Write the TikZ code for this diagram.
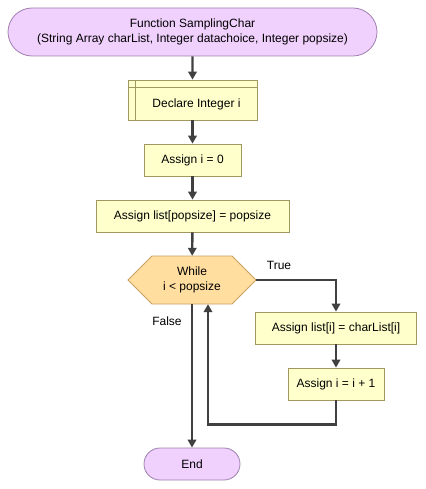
\documentclass[tikz,border=0pt]{standalone}
\usepackage{fontspec}
\setmainfont{Liberation Sans}
\usetikzlibrary{shapes.misc,arrows.meta}
\definecolor{termfill}{RGB}{240,208,252}
\definecolor{termline}{RGB}{160,128,176}
\definecolor{procfill}{RGB}{255,255,204}
\definecolor{procline}{RGB}{160,152,96}
\definecolor{decfill}{RGB}{255,222,160}
\definecolor{decline}{RGB}{200,160,96}
\definecolor{flowline}{RGB}{64,64,64}
\tikzset{
	lbl/.style = {font = \fontsize{12}{15}\selectfont, inner sep = 0pt},
	term/.style = {lbl, rounded rectangle, draw = termline, fill = termfill, line width = 0.8pt, align = center},
	proc/.style = {lbl, rectangle, draw = procline, fill = procfill, line width = 0.8pt, minimum height = 32pt},
	flow/.style = {draw = flowline, line width = 2.4pt, -{Triangle[width = 8.5pt, length = 8pt]}}
}
\begin{document}
\begin{tikzpicture}[x = 1pt, y = -1pt]
		\useasboundingbox (0, 0) rectangle (425, 489);
		% 框
		\node [term, minimum width = 369pt, minimum height = 48pt] (start) at (192.5, 32)
			{Function SamplingChar\\(String Array charList, Integer datachoice, Integer popsize)};
		\node [proc, minimum width = 129pt, minimum height = 40pt] (decl) at (192.5, 100) {};
		\draw [procline, line width = 0.8pt] ([xshift = 8pt]decl.north west) -- ([xshift = 8pt]decl.south west);
		\draw [procline, line width = 0.8pt] ([yshift = -8pt]decl.north west) -- ([yshift = -8pt]decl.north east);
		\node [lbl] (decltext) at (196.5, 104) {Declare Integer i};
		\node [proc, minimum width = 97pt] (init) at (192.5, 160) {Assign i = 0};
		\node [proc, minimum width = 193pt] (setlist) at (192.5, 216) {Assign list[popsize] = popsize};
		% 六边形
		\filldraw [fill = decfill, draw = decline, line width = 0.8pt]
		(128, 280) -- (152, 256) -- (232, 256) -- (256, 280) -- (232, 304) -- (152, 304) -- cycle;
		\node [lbl, minimum width = 128pt, minimum height = 48pt, align = center] (cond) at (192, 280) {While\\i < popsize};
		\node [proc, minimum width = 161pt] (copy) at (336, 328) {Assign list[i] = charList[i]};
		\node [proc, minimum width = 96pt] (incr) at (336, 384) {Assign i = i + 1};
		\node [term, minimum width = 96pt, minimum height = 32pt] (stop) at (192, 464) {End};
		% 箭头
		\draw [flow] (start) -- (decl);
		\draw [flow] (decl) -- (init);
		\draw [flow] (init) -- (setlist);
		\draw [flow] (setlist) -- (cond);
		\draw [flow] (cond.east) -| (copy.north);
		\draw [flow] (copy) -- (incr);
		\draw [flow] (incr.south) -- ++(0, 24) -| ([xshift = 16pt]cond.south);
		\draw [flow] (cond.south) -- (stop.north);
		% 批注
		\node [lbl] (truelbl) at (279, 265) {True};
		\node [lbl] (falselbl) at (167, 321) {False};
	\end{tikzpicture}
\end{document}
